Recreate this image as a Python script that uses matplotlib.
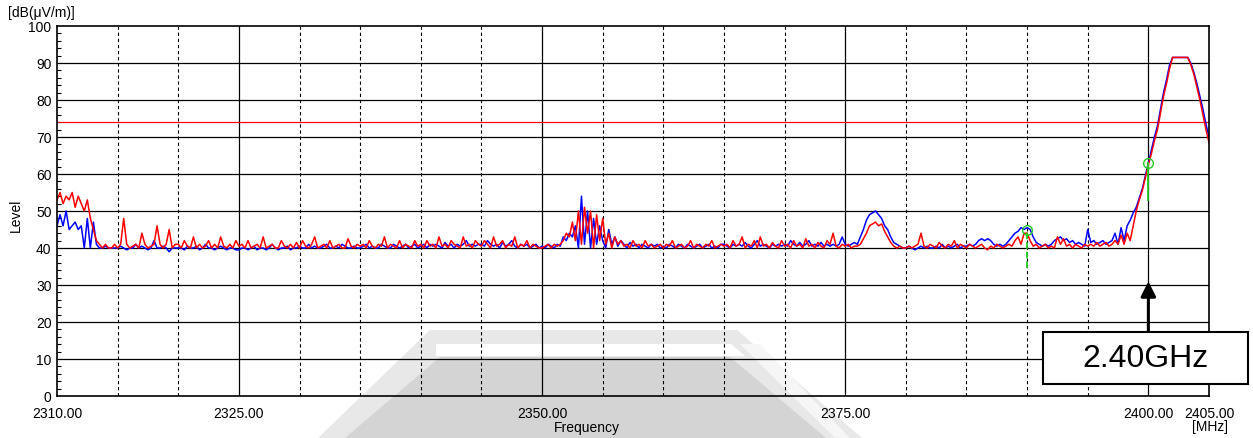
import numpy as np
import matplotlib
matplotlib.use('Agg')
from matplotlib import pyplot as plt
from matplotlib.patches import Polygon, Rectangle

plt.rcParams['font.family'] = ['Liberation Sans', 'DejaVu Sans']

# spectrum, 0.25 MHz steps from 2310 to 2405 MHz
red = [
    53, 55, 52, 54, 53, 55, 51, 54, 52, 50, 53, 48, 45, 42, 41, 40, 41, 40, 40, 41,
    40, 41, 48, 41, 40, 40.5, 41, 40, 44, 41, 40, 40.5, 41, 46, 41, 40, 41, 45, 40, 41,
    41, 40, 42, 40.5, 40, 43, 40, 41, 40, 40.5, 42, 40, 41, 40, 43, 40.5, 40, 41, 40, 42,
    40.5, 41, 40, 42, 40, 40.5, 41, 40, 43, 40, 40.5, 41, 40, 40, 42, 40.5, 40, 41, 40, 41.5,
    40, 42, 40.5, 40, 41, 43, 40, 40.5, 41, 40, 42, 40, 40.5, 41, 40, 40, 42.5, 40.5, 40, 41,
    40.5, 41, 40, 42, 40.5, 40, 41, 40.5, 43, 40, 41, 40.5, 40, 42, 40, 41, 40.5, 40, 42, 40.5,
    41, 40, 42, 40.5, 41, 40, 43, 40.5, 41, 40, 42, 41, 40.5, 40, 43, 40.5, 41, 40, 42, 41,
    40.5, 42, 41, 40, 43, 40.5, 41, 42, 40, 41, 40.5, 43, 40, 41, 40.5, 42, 40, 41, 40.5, 40,
    40, 40.5, 41, 40, 41, 40.5, 41, 42, 44, 43, 47, 42, 50, 41, 51, 44, 50, 40, 49, 42,
    48, 41, 44, 40, 43, 41, 42, 40.5, 41, 40, 42, 40.5, 41, 40, 42, 40.5, 41, 40, 40.5, 41,
    40, 41, 40.5, 42, 40, 40.5, 41, 40, 40.5, 42, 40, 41, 40.5, 40, 41, 40.5, 42, 40, 40.5, 41,
    40.5, 41, 40, 42, 40.5, 41, 43, 40, 41, 40.5, 42, 40, 43, 40.5, 41, 40, 41.5, 40.5, 40, 42,
    40.5, 41, 40, 42, 40.5, 41, 40, 42.5, 40.5, 41, 40, 41.5, 40.5, 40, 42, 41, 44, 40.5, 40, 41,
    40.5, 41, 40, 40.5, 40.5, 41, 42.5, 44, 46, 46.5, 47, 46, 46.5, 44.5, 43, 41.5, 40.5, 40, 40.5, 40,
    40, 40.5, 40, 40.5, 41, 44, 40.5, 40, 41, 40.5, 40, 41.5, 40.5, 40, 41, 40.5, 42, 40, 41, 40.5,
    40, 41, 40.5, 40, 40.5, 41, 40, 39.5, 40.5, 40, 41, 40.5, 40, 40.5, 41, 40.5, 42, 43, 41, 44,
    44, 42, 40.5, 41, 40, 40.5, 41, 40, 40.5, 40, 43, 41, 42.5, 40.5, 41, 40, 41, 40.5, 40, 41,
    40.5, 41, 40.5, 41.5, 40.5, 41, 41.5, 40.5, 41, 42, 41, 43.5, 41, 44, 42, 46, 50, 53, 55.5, 59,
    62.5, 65.5, 69, 72, 76.5, 81, 84.5, 88.5, 91.5, 91.5, 91.5, 91.5, 91.5, 91.5, 89.5, 87, 83.5, 80, 76, 72,
    68.5,
]
blue = [
    46, 49, 46, 50, 45, 46, 47, 45, 46, 40, 48, 40, 47, 41, 40, 40, 40.5, 40, 40, 40,
    40, 40.5, 40, 39.5, 40, 40, 41, 40, 40.5, 40, 39.5, 40, 42, 40, 40, 40.5, 40, 39, 40, 40,
    40, 40, 39.5, 40.5, 40, 40, 40.5, 39.5, 40, 41, 40, 40, 39.5, 40, 40.5, 40, 39.5, 40, 40, 39.5,
    39.5, 40, 40, 39.5, 40, 40.5, 39.5, 40, 40, 39.5, 40, 41, 40, 39.5, 40, 40, 40.5, 39.5, 40, 40,
    40.5, 40, 40, 41, 40, 40.5, 40, 40, 40.5, 41, 40, 40, 40.5, 40, 41, 40.5, 40, 40, 40.5, 40,
    40, 40.5, 41, 40, 40.5, 40, 40, 41, 40.5, 40, 40, 41, 40.5, 40, 40.5, 41, 40, 40.5, 41, 40,
    40.5, 41, 40, 41, 40.5, 41, 40.5, 40, 41.5, 40.5, 41, 40, 41, 40.5, 41, 42, 40.5, 41, 40.5, 41,
    41, 40.5, 42, 41, 40.5, 41, 40, 41.5, 40.5, 41, 42, 40.5, 40, 41, 40.5, 41, 40, 40.5, 41, 40,
    40.5, 40, 41, 40.5, 40, 41, 40.5, 43, 42, 44, 43, 46, 40, 54, 41, 50, 40, 48, 41, 46,
    42, 40, 45, 41, 43, 40.5, 42, 41, 40, 41.5, 40.5, 41, 40, 41, 40.5, 40, 41, 40.5, 41, 40,
    40.5, 40, 41, 40.5, 40, 41, 40.5, 40, 41, 40.5, 40, 40.5, 41, 40, 40.5, 41, 40, 40.5, 40, 41,
    41, 40.5, 40, 41, 40.5, 41, 40.5, 41.5, 40.5, 40, 41, 42, 40.5, 41, 40.5, 40, 41, 40.5, 41, 40.5,
    41, 40.5, 42, 41, 40.5, 41.5, 40.5, 41, 42, 40.5, 41, 40.5, 41.5, 40.5, 41, 40.5, 41, 40.5, 41, 43,
    41, 40.5, 41, 41.5, 41, 43, 45, 47.5, 49, 49.5, 50, 49, 48, 46, 45, 43, 41.5, 41, 40.5, 40,
    40, 40.5, 40, 39.5, 40, 40.5, 40, 40.5, 40, 40, 40.5, 40, 41, 40, 40.5, 40, 40.5, 41, 40, 40.5,
    40.5, 41, 40.5, 41, 42, 42.5, 42, 42.5, 42, 41, 40.5, 41, 40.5, 41, 42, 43, 44, 44.5, 45.5, 45,
    45.5, 45, 43, 41.5, 41, 40.5, 41, 40.5, 41, 42, 42.5, 43, 42, 42.5, 41.5, 42, 41, 41.5, 41, 40.5,
    45, 41.5, 42, 41, 41.5, 42, 41, 41.5, 42, 44, 41, 45.5, 42, 46, 47.5, 49.5, 51, 53.5, 56, 59.5,
    63, 66.5, 70, 73, 77.5, 82, 85.5, 89.5, 91.5, 91.5, 91.5, 91.5, 91.5, 91.5, 90, 87.5, 84.5, 81, 77.5, 73.5,
    70,
]
freq = np.linspace(2310, 2405, len(red))

limit = 74
marker_f = [2390, 2400]
marker_lvl = [45, 63]
marker_low = [34.5, 53]

major_x = [2325, 2350, 2375, 2400]
minor_x = [2315, 2320, 2330, 2335, 2340, 2345, 2355, 2360, 2365, 2370,
           2380, 2385, 2390, 2395]
xtick_vals = [2310, 2325, 2350, 2375, 2400, 2405]
ytick_vals = list(range(0, 101, 10))

W, H = 1253, 439
fig = plt.figure(figsize=(W / 100, H / 100), dpi=100)

# watermark behind the plot (figure pixel coords)
def px(pts):
    return [(x / W, 1 - y / H) for x, y in pts]

fig.patches.append(Polygon(px([(430, 331), (737, 331), (862, 439), (318, 439)]),
                           closed=True, transform=fig.transFigure,
                           facecolor='#e8e8e8', edgecolor='none', zorder=-3))
fig.patches.append(Polygon(px([(436, 345), (731, 345), (745, 357), (436, 357)]),
                           closed=True, transform=fig.transFigure,
                           facecolor='white', edgecolor='none', zorder=-2))
fig.patches.append(Polygon(px([(740, 345), (760, 345), (850, 439), (835, 439)]),
                           closed=True, transform=fig.transFigure,
                           facecolor='#f6f6f6', edgecolor='none', zorder=-2))
fig.patches.append(Polygon(px([(440, 358), (730, 358), (826, 439), (345, 439)]),
                           closed=True, transform=fig.transFigure,
                           facecolor='#d4d4d4', edgecolor='none', zorder=-2))

ax = fig.add_axes([57 / W, 1 - 397 / H, (1209 - 57) / W, (397 - 27) / H])
ax.set_facecolor('none')

for f in major_x:
    ax.axvline(f, color='black', lw=0.9, zorder=1)
for f in minor_x:
    ax.axvline(f, color='black', lw=0.8, ls=(0, (3, 2.5)), zorder=1)
for v in ytick_vals[1:-1]:
    ax.axhline(v, color='black', lw=0.9, zorder=1)

ax.axhline(limit, color='red', lw=0.9, zorder=2)

ax.plot(freq, blue, color='blue', lw=1.1, zorder=3)
ax.plot(freq, red, color='red', lw=1.1, zorder=4)

for f, lvl, low, st in zip(marker_f, marker_lvl, marker_low, ['--', '-']):
    ax.plot([f, f], [low, lvl], color='#22cc22', lw=1.3, ls=st, zorder=5)
    ax.plot(f, lvl, 'o', mfc='none', mec='#22cc22', ms=7, mew=1.0, zorder=6)

ax.set_xlim(2310, 2405)
ax.set_ylim(0, 100)
ax.set_xticks(xtick_vals)
ax.set_xticklabels(['%.2f' % v for v in xtick_vals], fontsize=10)
ax.set_yticks(ytick_vals)
ax.set_yticklabels([str(v) for v in ytick_vals], fontsize=10)
ax.set_yticks(np.arange(0, 101, 2), minor=True)
ax.tick_params(axis='both', which='major', length=0, pad=4)
ax.tick_params(axis='y', which='minor', direction='in', length=3, width=0.8)
ax.tick_params(axis='x', which='major', pad=7)
for s in ax.spines.values():
    s.set_linewidth(1.2)
    s.set_zorder(7)

fig.text(8 / W, 1 - 13 / H, '[dB(\u03bcV/m)]', fontsize=10, va='center', ha='left')
fig.text(16 / W, 1 - 215 / H, 'Level', fontsize=10, rotation=90, va='center', ha='center')
fig.text(587 / W, 1 - 428 / H, 'Frequency', fontsize=10, va='center', ha='center')
fig.text(1210 / W, 1 - 427 / H, '[MHz]', fontsize=10, va='center', ha='center')

# 2.40GHz callout
fig.patches.append(Rectangle((1043 / W, 1 - 385 / H), 205 / W, 52 / H,
                             transform=fig.transFigure, facecolor='white',
                             edgecolor='black', lw=1.5, zorder=10))
fig.text(1146 / W, 1 - 359 / H, '2.40GHz', fontsize=23, va='center', ha='center', zorder=11)
ax.annotate('', xy=(2400, 31), xytext=(2400, 17.3), xycoords='data',
            arrowprops=dict(arrowstyle='-|>,head_length=0.9,head_width=0.45',
                            color='black', lw=2.2, shrinkA=0, shrinkB=0),
            annotation_clip=False, zorder=9)

fig.savefig('out.png', dpi=100)
